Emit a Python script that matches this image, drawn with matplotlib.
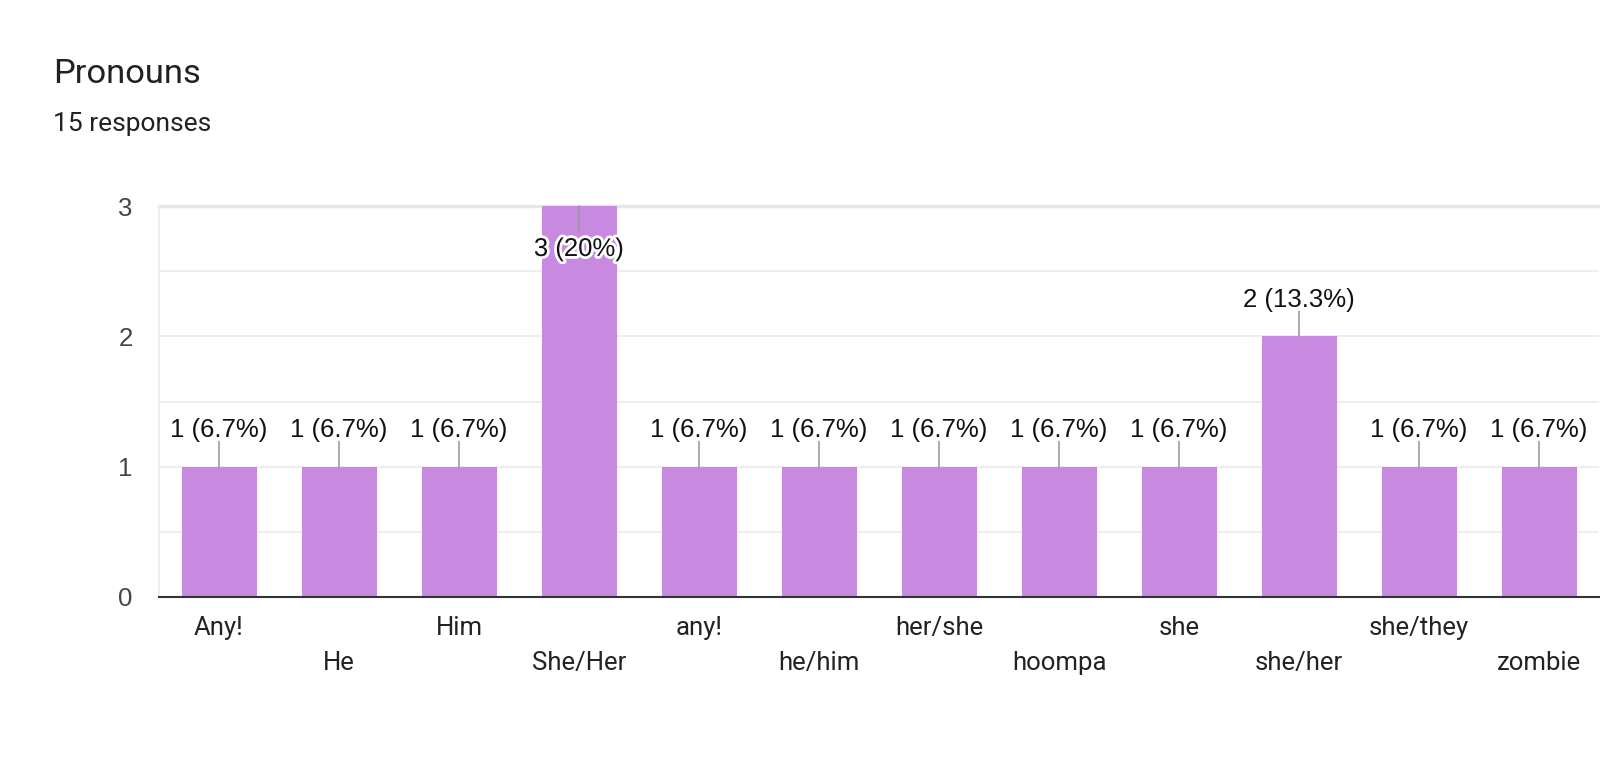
import matplotlib
matplotlib.use("Agg")
import matplotlib.pyplot as plt
import matplotlib.patheffects as pe

categories = ["Any!", "He", "Him", "She/Her", "any!", "he/him", "her/she",
              "hoompa", "she", "she/her", "she/they", "zombie"]
counts = [1, 1, 1, 3, 1, 1, 1, 1, 1, 2, 1, 1]
labels = ["1 (6.7%)", "1 (6.7%)", "1 (6.7%)", "3 (20%)", "1 (6.7%)", "1 (6.7%)",
          "1 (6.7%)", "1 (6.7%)", "1 (6.7%)", "2 (13.3%)", "1 (6.7%)", "1 (6.7%)"]
yticks = [0, 1, 2, 3]

plt.rcParams['font.family'] = ['Roboto', 'DejaVu Sans']
ARIAL = ['Liberation Sans', 'DejaVu Sans']
W, H = 1600, 763
fig = plt.figure(figsize=(W / 100, H / 100), dpi=100)
ax = fig.add_axes([159 / W, (H - 597) / H, (1599 - 159) / W, (597 - 206) / H])

bar_color = "#c88ae0"
x = list(range(len(categories)))
ax.bar(x, counts, width=0.625, color=bar_color, zorder=2)
ax.set_xlim(-0.5, len(categories) - 0.5)
ax.set_ylim(0, 3)

# gridlines
for g in [0.5, 1, 1.5, 2, 2.5]:
    ax.axhline(g, color="#ebebeb", lw=1.2, zorder=1)
ax.axhline(3, color="#e6e6e6", lw=2.5, zorder=1, clip_on=False)
ax.axhline(0, color="#333333", lw=1.5, zorder=3, clip_on=False)

for s in ["top", "right", "bottom"]:
    ax.spines[s].set_visible(False)
ax.spines["left"].set_color("#ebebeb")
ax.spines["left"].set_linewidth(1.2)

ax.set_yticks(yticks)
ax.set_yticklabels([str(t) for t in yticks], fontsize=18.5, color="#444444",
                   family=ARIAL)
ax.tick_params(axis="y", length=0, pad=19)
ax.set_xticks([])

pt = 0.72  # points per pixel
maxv = max(counts)
for xi, (v, lab) in enumerate(zip(counts, labels)):
    if v == maxv:
        ax.annotate("", xy=(xi, v), xycoords="data",
                    xytext=(0, -26 * pt), textcoords="offset points",
                    arrowprops=dict(arrowstyle="-", color="#999999", lw=1.2,
                                    shrinkA=0, shrinkB=0), zorder=4)
        ax.annotate(lab, xy=(xi, v), xycoords="data",
                    xytext=(0, -43 * pt), textcoords="offset points",
                    ha="center", va="center", fontsize=18.5, color="#111111",
                    family=ARIAL,
                    path_effects=[pe.withStroke(linewidth=4, foreground="white")],
                    zorder=5, annotation_clip=False)
    else:
        ax.annotate("", xy=(xi, v), xycoords="data",
                    xytext=(0, 25 * pt), textcoords="offset points",
                    arrowprops=dict(arrowstyle="-", color="#999999", lw=1.2,
                                    shrinkA=0, shrinkB=0), zorder=4)
        ax.annotate(lab, xy=(xi, v), xycoords="data",
                    xytext=(0, 36.5 * pt), textcoords="offset points",
                    ha="center", va="center", fontsize=18.5, color="#111111",
                    family=ARIAL, zorder=5, annotation_clip=False)

# category labels, staggered in two rows
for xi, cat in enumerate(categories):
    off = -31 if xi % 2 == 0 else -66
    ax.annotate(cat, xy=(xi, 0), xycoords=("data", "axes fraction"),
                xytext=(0, off * pt), textcoords="offset points",
                ha="center", va="center", fontsize=18.5, color="#222222",
                annotation_clip=False)

fig.text(53 / W, 1 - 74 / H, "Pronouns", fontsize=24.8, color="#202124",
         ha="left", va="center")
fig.text(53 / W, 1 - 124 / H, "15 responses", fontsize=19, color="#202124",
         ha="left", va="center")

fig.savefig("out.png", dpi=100, facecolor="white")
